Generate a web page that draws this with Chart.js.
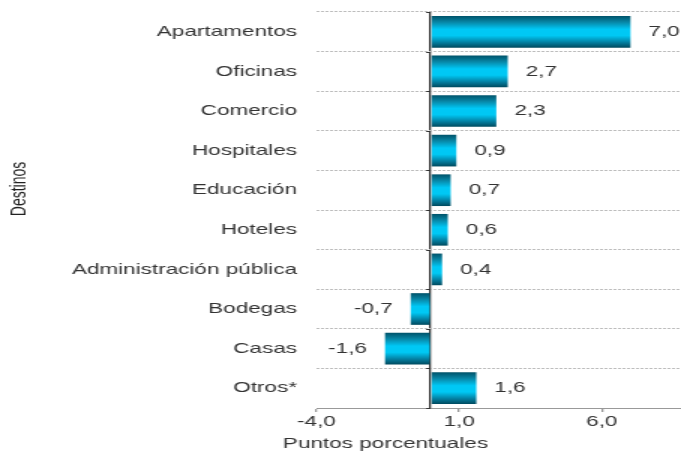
<!DOCTYPE html>
<html>
<head>
<meta charset="utf-8">
<script src="https://cdn.jsdelivr.net/npm/chart.js@4"></script>
<style>
  body { margin: 0; background: #fff; }
</style>
</head>
<body>
<!-- drawn narrow and stretched sideways, like the original picture -->
<canvas id="chart" width="454" height="452" style="display:block;width:681px;height:452px"></canvas>
<script>
const categories = ['Apartamentos', 'Oficinas', 'Comercio', 'Hospitales', 'Educación', 'Hoteles',
    'Administración pública', 'Bodegas', 'Casas', 'Otros*'];
const values = [7.0, 2.7, 2.3, 0.9, 0.7, 0.6, 0.4, -0.7, -1.6, 1.6];
const xTicks = [-4, 1, 6];
const xMin = -4;
const xMax = 8.77;

const FONT = "'Liberation Sans', Arial, sans-serif";
const fmt = (v) => v.toFixed(1).replace('.', ',');

// bars get a shaded tube look
const barShade = {
    id: 'barShade',
    beforeDatasetsDraw(chart) {
        const ctx = chart.ctx;
        chart.getDatasetMeta(0).data.forEach((bar) => {
            const top = bar.y - bar.height / 2;
            const g = ctx.createLinearGradient(0, top, 0, top + bar.height);
            g.addColorStop(0, '#00536a');
            g.addColorStop(0.2, '#0888a8');
            g.addColorStop(0.42, '#00c8f6');
            g.addColorStop(0.62, '#00c8f4');
            g.addColorStop(0.85, '#04799a');
            g.addColorStop(1, '#004a5e');
            bar.options.backgroundColor = g;
        });
    },
    afterDatasetsDraw(chart) {
        const ctx = chart.ctx;
        ctx.save();
        ctx.font = '15px ' + FONT;
        ctx.fillStyle = '#333';
        ctx.textBaseline = 'middle';
        chart.getDatasetMeta(0).data.forEach((bar, i) => {
            const v = values[i];
            ctx.textAlign = v >= 0 ? 'left' : 'right';
            ctx.fillText(fmt(v), bar.x + (v >= 0 ? 12 : -12), bar.y);
        });
        ctx.restore();
    },
    afterDraw(chart) {
        const ctx = chart.ctx;
        const x0 = chart.scales.x.getPixelForValue(0);
        const y = chart.scales.y;
        ctx.save();
        // little ticks on the zero line
        ctx.strokeStyle = '#333';
        ctx.lineWidth = 1;
        for (let i = 0; i <= categories.length; i++) {
            const py = Math.round(y.getPixelForValue(i - 0.5)) + 0.5;
            ctx.beginPath();
            ctx.moveTo(x0 - 3, py);
            ctx.lineTo(x0, py);
            ctx.stroke();
        }
        // axis titles
        ctx.fillStyle = '#333';
        ctx.font = '15px ' + FONT;
        ctx.textAlign = 'center';
        ctx.textBaseline = 'middle';
        ctx.fillText('Puntos porcentuales', 257, 444);
        ctx.translate(13.5, 189);
        ctx.rotate(-Math.PI / 2);
        ctx.fillStyle = '#222';
        ctx.font = '14px ' + FONT;
        ctx.fillText('Destinos', 0, 0);
        ctx.restore();
    }
};

new Chart(document.getElementById('chart'), {
    type: 'bar',
    data: {
        labels: categories,
        datasets: [{
            data: values,
            // scriptable so every bar keeps its own options object
            backgroundColor: () => '#00c6f2',
            borderWidth: 0,
            barPercentage: 0.8,
            categoryPercentage: 1
        }]
    },
    options: {
        indexAxis: 'y',
        responsive: false,
        devicePixelRatio: 1,
        animation: false,
        layout: { padding: { top: 12, right: 0, bottom: 0, left: 0 } },
        plugins: {
            legend: { display: false },
            tooltip: { enabled: false }
        },
        scales: {
            x: {
                min: xMin,
                max: xMax,
                z: 1,
                afterBuildTicks: (scale) => {
                    scale.ticks = [xTicks[0], 0, ...xTicks.slice(1)].map((v) => ({ value: v }));
                },
                afterFit: (scale) => { scale.height = 44; },
                grid: {
                    color: (c) => (c.tick && c.tick.value === 0 ? '#333' : 'rgba(0,0,0,0)'),
                    lineWidth: 1.3,
                    tickColor: (c) => (c.tick && c.tick.value === 0 ? 'rgba(0,0,0,0)' : '#999'),
                    tickLength: 4
                },
                border: { display: true, color: '#999', width: 1 },
                ticks: {
                    autoSkip: false,
                    maxRotation: 0,
                    padding: 1,
                    color: '#333',
                    font: { family: FONT, size: 15 },
                    callback: (v) => (v === 0 ? '' : fmt(v))
                }
            },
            y: {
                afterFit: (scale) => {
                    scale.width = 211;
                    scale.paddingTop = 0;
                    scale.paddingBottom = 0;
                },
                grid: {
                    color: '#bdbdbd',
                    lineWidth: 1,
                    drawTicks: false
                },
                // dash here also applies to the grid lines
                border: { display: false, dash: [2, 1] },
                ticks: {
                    padding: 13,
                    color: '#333',
                    font: { family: FONT, size: 15 }
                }
            }
        }
    },
    plugins: [barShade]
});
</script>
</body>
</html>
